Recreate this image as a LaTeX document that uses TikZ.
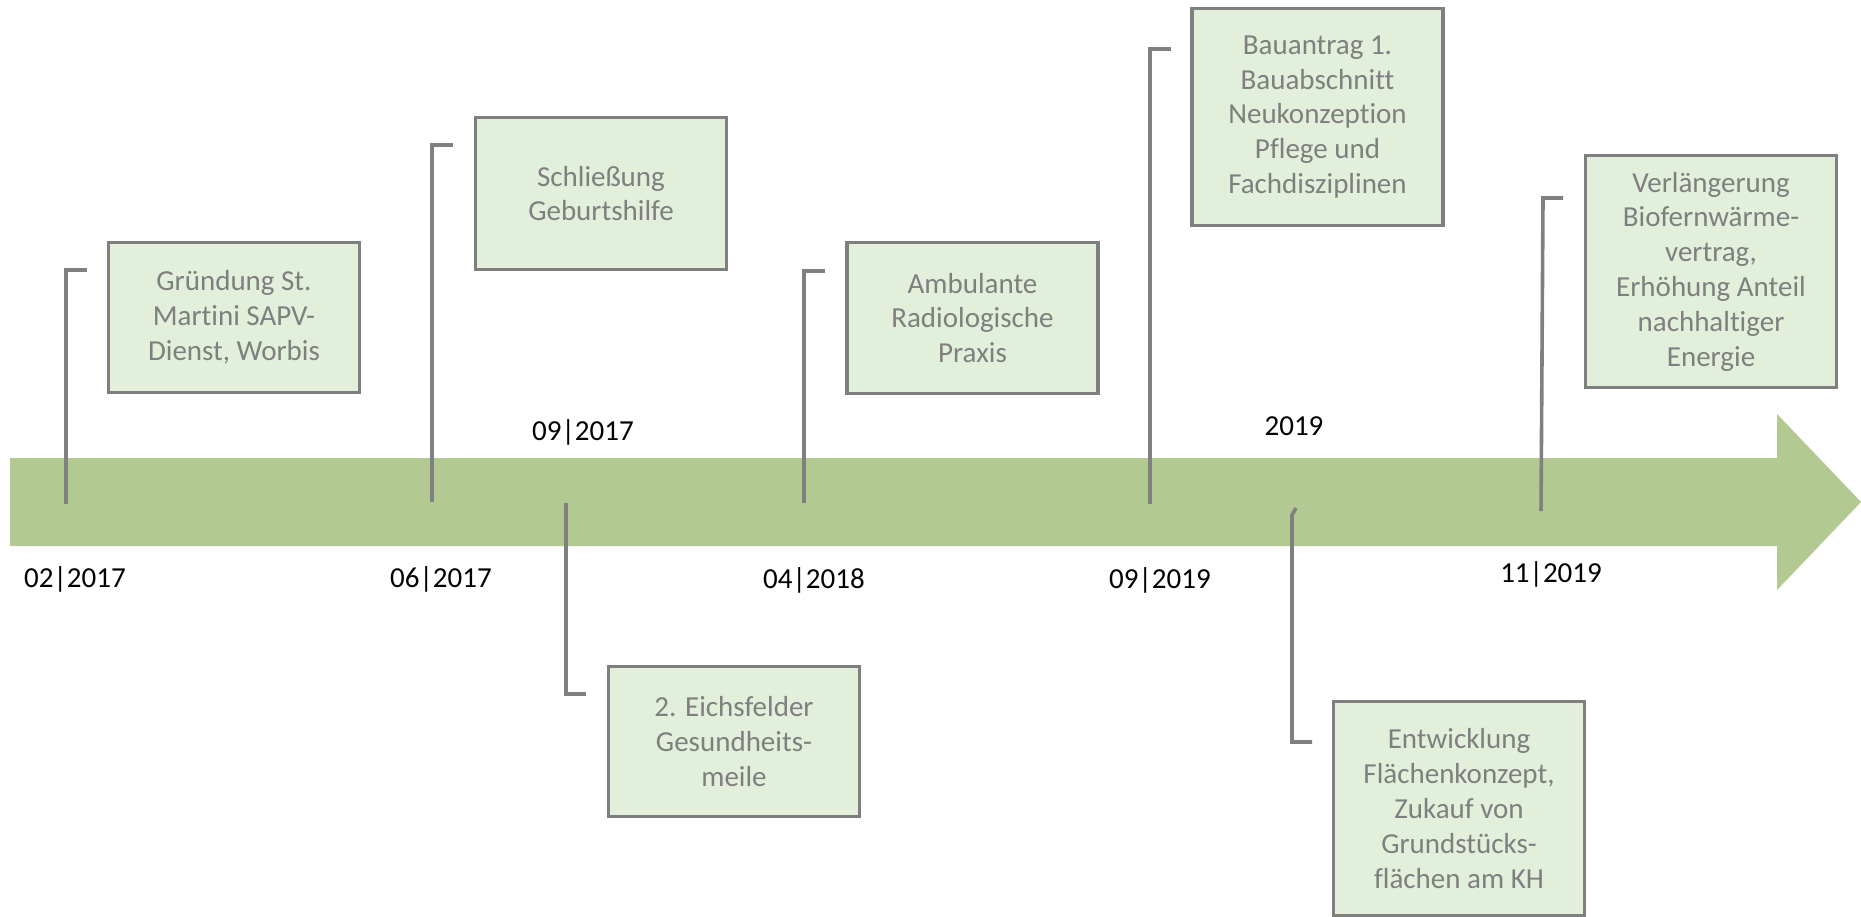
\documentclass[tikz,border=0pt]{standalone}
\usepackage{fontspec}
\setmainfont{Carlito}[Ligatures={NoCommon}]
\definecolor{arrowgreen}{HTML}{B2C992}
\definecolor{boxfill}{HTML}{E2EFDA}
\definecolor{boxgray}{HTML}{7F7F7F}
\definecolor{txtgray}{HTML}{7F7F7F}
\definecolor{linegray}{HTML}{808080}
\tikzset{
  evbox/.style={draw=boxgray, line width=1.65pt, fill=boxfill, text=txtgray,
    align=center, inner sep=0pt, minimum width=125.5pt, minimum height=#1,
    font=\fontsize{14.5pt}{17.4pt}\selectfont},
  evbox/.default=75pt,
  datelabel/.style={anchor=base, inner sep=0pt, text=black,
    font=\fontsize{14.5pt}{17pt}\selectfont},
  bracket/.style={draw=linegray, line width=1.8pt}
}
\begin{document}
\begin{tikzpicture}[x=0.5pt,y=-0.5pt]
\useasboundingbox (0,0) rectangle (1861,916);
% timeline arrow
\fill[arrowgreen] (10,458) -- (1777,458) -- (1777,414) -- (1861,502)
  -- (1777,590) -- (1777,546) -- (10,546) -- cycle;

% event boxes
\node[evbox=75pt] (e1) at (234,317.5) {Gründung St.\\Martini SAPV-\\Dienst, Worbis};
\node[evbox=76pt] (e2) at (601,193.5) {Schließung\\Geburtshilfe};
\node[evbox=75.5pt] (e3) at (972.5,318) {Ambulante\\Radiologische\\Praxis};
\node[evbox=75pt] (e4) at (734,741.5) {2. Eichsfelder\\Gesundheits-\\meile};
\node[evbox=108.5pt] (e5) at (1317.5,117) {Bauantrag 1.\\Bauabschnitt\\Neukonzeption\\Pflege und\\Fachdisziplinen};
\node[evbox=116pt] (e6) at (1711,271.5) {Verlängerung\\Biofernwärme-\\vertrag,\\Erhöhung Anteil\\nachhaltiger\\Energie};
\node[evbox=107pt] (e7) at (1459,808.5) {Entwicklung\\Flächenkonzept,\\Zukauf von\\Grundstücks-\\flächen am KH};

% date labels
\node[datelabel] (d1) at (75,587) {02|2017};
\node[datelabel] (d2) at (441,587) {06|2017};
\node[datelabel] (d3) at (583,440) {09|2017};
\node[datelabel] (d4) at (814,588) {04|2018};
\node[datelabel] (d5) at (1160,588) {09|2019};
\node[datelabel] (d6) at (1294,435) {2019};
\node[datelabel] (d7) at (1551,582) {11|2019};

% connector coordinates
\coordinate (b1) at (66,504);   \coordinate (t1) at (87,270);
\coordinate (b2) at (432,502);  \coordinate (t2) at (453,145);
\coordinate (b3) at (804,503);  \coordinate (t3) at (825,271);
\coordinate (b4) at (566,503);  \coordinate (t4) at (586,694);
\coordinate (b5) at (1150,504); \coordinate (t5) at (1171,49);
\coordinate (b6) at (1296,508); \coordinate (k6) at (1292,515); \coordinate (t6) at (1312,742);
\coordinate (b7) at (1541,511); \coordinate (k7) at (1543,198); \coordinate (t7) at (1563,198);

% connectors
\draw[bracket] (b1) |- (t1);
\draw[bracket] (b2) |- (t2);
\draw[bracket] (b3) |- (t3);
\draw[bracket] (b4) |- (t4);
\draw[bracket] (b5) |- (t5);
\draw[bracket] (b6) -- (k6) |- (t6);
\draw[bracket] (b7) -- (k7) -- (t7);
\end{tikzpicture}
\end{document}
